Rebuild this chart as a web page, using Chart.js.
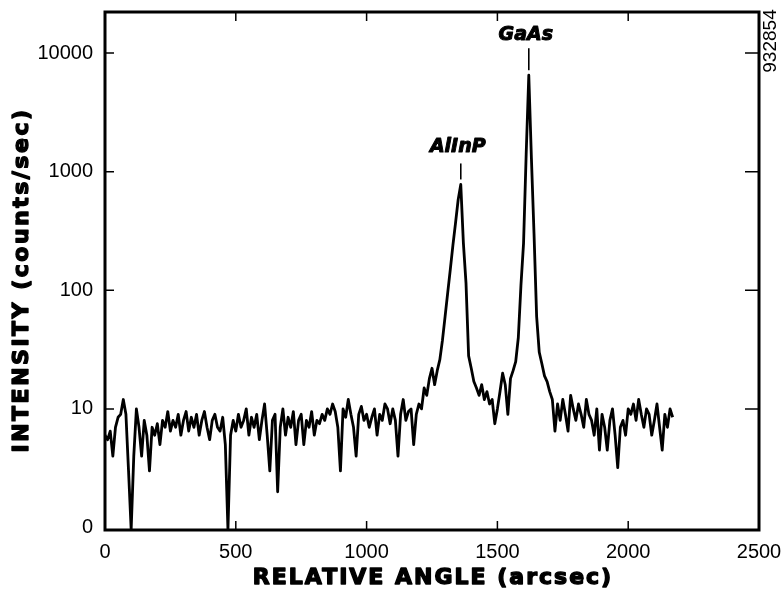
<!DOCTYPE html>
<html>
<head>
<meta charset="utf-8">
<script src="https://cdn.jsdelivr.net/npm/chart.js@4.4.0/dist/chart.umd.min.js"></script>
<style>
  html, body { margin: 0; padding: 0; background: #fff; }
  #wrap { width: 783px; height: 597px; }
</style>
</head>
<body>
<div id="wrap"><canvas id="rockingCurve"></canvas></div>
<script>
// relative angle (arcsec), one row per 100 arcsec
const angles = [
    0,   10,   20,   30,   40,   50,   60,   70,   80,   90,
  100,  110,  120,  130,  140,  150,  160,  170,  180,  190,
  200,  210,  220,  230,  240,  250,  260,  270,  280,  290,
  300,  310,  320,  330,  340,  350,  360,  370,  380,  390,
  400,  410,  420,  430,  440,  450,  460,  470,  480,  490,
  500,  510,  520,  530,  540,  550,  560,  570,  580,  590,
  600,  610,  620,  630,  640,  650,  660,  670,  680,  690,
  700,  710,  720,  730,  740,  750,  760,  770,  780,  790,
  800,  810,  820,  830,  840,  850,  860,  870,  880,  890,
  900,  910,  920,  930,  940,  950,  960,  970,  980,  990,
  1000, 1010, 1020, 1030, 1040, 1050, 1060, 1070, 1080, 1090,
  1100, 1110, 1120, 1130, 1140, 1150, 1160, 1170, 1180, 1190,
  1200, 1210, 1220, 1230, 1240, 1250, 1260, 1270, 1280, 1290,
  1300, 1310, 1320, 1330, 1340, 1350, 1360, 1370, 1380, 1390,
  1400, 1410, 1420, 1430, 1440, 1450, 1460, 1470, 1480, 1490,
  1500, 1510, 1520, 1530, 1540, 1550, 1560, 1570, 1580, 1590,
  1600, 1610, 1620, 1630, 1640, 1650, 1660, 1670, 1680, 1690,
  1700, 1710, 1720, 1730, 1740, 1750, 1760, 1770, 1780, 1790,
  1800, 1810, 1820, 1830, 1840, 1850, 1860, 1870, 1880, 1890,
  1900, 1910, 1920, 1930, 1940, 1950, 1960, 1970, 1980, 1990,
  2000, 2010, 2020, 2030, 2040, 2050, 2060, 2070, 2080, 2090,
  2100, 2110, 2120, 2130, 2140, 2150, 2160, 2170
];

// intensity (counts/sec)
const counts = [
  6, 5.5, 6.5, 4, 7, 8.5, 9, 12, 9, 3,
  0.96, 4, 10, 7, 4, 8, 6, 3, 7, 6,
  7.5, 5, 8, 7, 9.5, 6.5, 8, 7, 9, 6,
  8, 9.5, 6.5, 8.5, 7, 9, 6, 8, 9.5, 7,
  5.5, 8, 9, 7, 6.5, 8.5, 5, 0.96, 6, 8,
  6.5, 9, 7, 8, 10, 6, 8.5, 7, 9, 5.5,
  8, 11, 6, 3, 8, 9, 2, 7, 10, 6,
  8.5, 7, 9.5, 5, 8, 9, 5, 8, 7, 9.5,
  6, 8, 7.5, 9, 8, 10, 9, 11, 9.5, 7,
  3, 10, 8.5, 12, 9, 7, 4, 9, 10.5, 8,
  9, 7, 8.5, 10, 6, 9, 8, 11, 10, 7.5,
  10, 8, 4, 9, 12, 8, 9.5, 10, 5, 9,
  11, 10, 15, 13, 18, 22, 16, 21, 26, 38,
  60, 95, 150, 240, 370, 580, 780, 250, 115, 28,
  22, 17, 15, 13, 16, 12, 14, 11, 12, 7.5,
  10, 14, 20, 16, 9, 18, 21, 25, 40, 110,
  250, 1400, 6500, 1300, 300, 60, 30, 24, 19, 17,
  14, 12, 6.5, 11, 8, 12, 9, 6.5, 13, 10,
  8, 11, 9, 7, 12, 9, 8, 6, 10, 4.5,
  9, 7, 4.5, 8, 10, 6, 3.2, 7, 8, 6,
  10, 9, 11, 8, 12, 9, 7, 10, 9, 6,
  8, 11, 7, 4.5, 9, 7, 10, 8.5
];

const xTicks = [0, 500, 1000, 1500, 2000, 2500];
const yTicks = [1, 10, 100, 1000, 10000];
const yTickLabels = ['0', '10', '100', '1000', '10000'];

const peakNames = ['AlInP', 'GaAs'];
const peakAngles = [1360, 1620];
const peakCounts = [780, 6500];

const xTitle = 'RELATIVE ANGLE (arcsec)';
const yTitle = 'INTENSITY (counts/sec)';
const figureId = '932854';

const points = angles.map((a, i) => ({ x: a, y: counts[i] }));

// heavy text: fill plus a thin stroke to get a black-weight look
function heavyText(ctx, text, x, y, stroke) {
    ctx.lineWidth = stroke;
    ctx.lineJoin = 'round';
    ctx.strokeText(text, x, y);
    ctx.fillText(text, x, y);
}

const extras = {
    id: 'extras',
    afterDatasetsDraw(chart) {
        const { ctx, chartArea: a, scales: { x, y } } = chart;
        ctx.save();
        ctx.strokeStyle = '#000';
        ctx.fillStyle = '#000';

        // frame
        ctx.lineWidth = 3;
        ctx.strokeRect(a.left, a.top, a.right - a.left, a.bottom - a.top);

        // inward ticks
        ctx.lineWidth = 1.5;
        ctx.beginPath();
        xTicks.slice(1, -1).forEach(v => {
            const px = x.getPixelForValue(v);
            ctx.moveTo(px, a.bottom); ctx.lineTo(px, a.bottom - 9);
            ctx.moveTo(px, a.top); ctx.lineTo(px, a.top + 9);
        });
        yTicks.slice(1).forEach(v => {
            const py = y.getPixelForValue(v);
            ctx.moveTo(a.left, py); ctx.lineTo(a.left + 9, py);
            ctx.moveTo(a.right, py); ctx.lineTo(a.right - 14, py);
        });
        ctx.stroke();

        // peak labels
        ctx.font = 'italic bold 19px "DejaVu Sans"';
        ctx.textAlign = 'center';
        ctx.textBaseline = 'middle';
        const lineLen = [16, 22];
        const gap = [16, 13];
        peakNames.forEach((name, i) => {
            const px = x.getPixelForValue(peakAngles[i]);
            const py = y.getPixelForValue(peakCounts[i]);
            ctx.lineWidth = 1.6;
            ctx.beginPath();
            ctx.moveTo(px, py - 5);
            ctx.lineTo(px, py - 5 - lineLen[i]);
            ctx.stroke();
            heavyText(ctx, name, px - 3, py - 5 - lineLen[i] - gap[i], 1);
        });

        // axis titles
        ctx.font = 'bold 22px "DejaVu Sans"';
        ctx.letterSpacing = '2px';
        heavyText(ctx, xTitle, (a.left + a.right) / 2 + 1, a.bottom + 48, 1.4);
        ctx.save();
        ctx.translate(22, (a.top + a.bottom) / 2 + 9);
        ctx.rotate(-Math.PI / 2);
        ctx.letterSpacing = '2.5px';
        heavyText(ctx, yTitle, 0, 0, 1.4);
        ctx.restore();

        // figure number
        ctx.letterSpacing = '0px';
        ctx.font = '19px "Liberation Sans"';
        ctx.translate(a.right + 12, 41);
        ctx.rotate(-Math.PI / 2);
        ctx.fillText(figureId, 0, 0);
        ctx.restore();
    }
};

const ctx = document.getElementById('rockingCurve').getContext('2d');
const rockingCurve = new Chart(ctx, {
    type: 'line',
    data: {
        datasets: [{
            data: points,
            borderColor: '#000',
            borderWidth: 2.8,
            borderJoinStyle: 'round',
            pointRadius: 0,
            tension: 0,
            fill: false
        }]
    },
    options: {
        responsive: true,
        maintainAspectRatio: false,
        animation: false,
        events: [],
        layout: { padding: { top: 12, right: 24, left: 0, bottom: 0 } },
        plugins: { legend: { display: false }, tooltip: { enabled: false } },
        scales: {
            x: {
                type: 'linear',
                min: 0,
                max: 2500,
                border: { display: false },
                grid: { display: false, drawTicks: false },
                afterBuildTicks: s => { s.ticks = xTicks.map(v => ({ value: v })); },
                afterFit: s => { s.height = 67; s.paddingLeft = 0; s.paddingRight = 0; },
                ticks: {
                    padding: 10,
                    maxRotation: 0,
                    autoSkip: false,
                    color: '#000',
                    font: { family: '"Liberation Sans"', size: 20 },
                    callback: v => String(v)
                }
            },
            y: {
                type: 'logarithmic',
                min: 0.953,
                max: 22180,
                border: { display: false },
                grid: { display: false, drawTicks: false },
                afterBuildTicks: s => { s.ticks = yTicks.map(v => ({ value: v })); },
                afterFit: s => { s.width = 105; s.paddingTop = 0; s.paddingBottom = 0; },
                ticks: {
                    padding: 12,
                    autoSkip: false,
                    color: '#000',
                    font: { family: '"Liberation Sans"', size: 20 },
                    callback: v => yTickLabels[yTicks.indexOf(v)]
                }
            }
        }
    },
    plugins: [extras]
});
</script>
</body>
</html>
